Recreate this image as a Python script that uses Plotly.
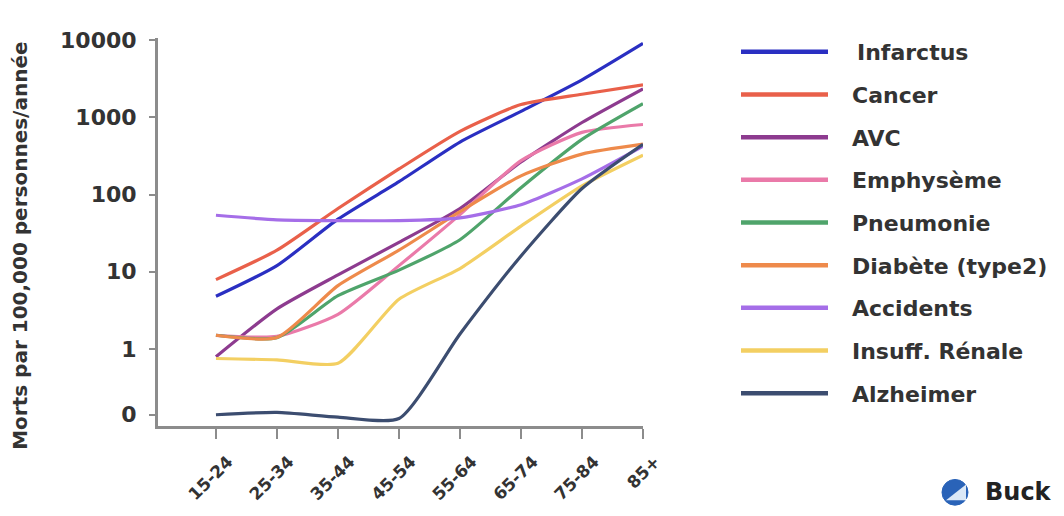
import plotly.graph_objects as go

categories = ["15-24", "25-34", "35-44", "45-54", "55-64", "65-74", "75-84", "85+"]

infarctus = [4.8, 12, 48, 147, 480, 1200, 3070, 9100]
cancer = [7.9, 19, 66, 215, 660, 1470, 2000, 2650]
avc = [0.79, 3.3, 9.1, 24, 66, 265, 860, 2350]
emphyseme = [1.5, 1.45, 2.8, 12, 55, 275, 640, 810]
pneumonie = [1.5, 1.4, 4.9, 10.5, 26, 123, 520, 1510]
diabete = [1.5, 1.4, 6.6, 19, 60, 175, 335, 450]
accidents = [54, 47, 46, 46, 50, 74, 160, 425]
insuff_renale = [0.75, 0.72, 0.65, 4.4, 11, 39, 130, 325]
alzheimer = [0.14, 0.15, 0.13, 0.125, 1.56, 16, 120, 450]

series_names = ["Infarctus", "Cancer", "AVC", "Emphysème", "Pneumonie",
                "Diabète (type2)", "Accidents", "Insuff. Rénale", "Alzheimer"]
series_values = [infarctus, cancer, avc, emphyseme, pneumonie,
                 diabete, accidents, insuff_renale, alzheimer]
series_colors = ["#2a2fc2", "#e9604a", "#8d3b8f", "#ea7aa9", "#4fa46b",
                 "#ee8a4b", "#a56ee8", "#f3cf62", "#3c4d70"]

y_tickvals = [0.14, 1, 10, 100, 1000, 10000]
y_ticktext = ["0", "1", "10", "100", "1000", "10000"]
y_title = "Morts par 100,000 personnes/année"

FONT = "DejaVu Sans"
TXT = "#333333"

# page has an 8px body margin: figure is 1056x508
W, H = 1056, 508
L, R, T, B = 150, 421, 30, 86
PW, PH = W - L - R, H - T - B

def px(xr):  # reference-pixel x -> paper
    return (xr - 8 - L) / PW

def py(yr):  # reference-pixel y -> paper
    return (H - (yr - 8) - B) / PH

fig = go.Figure()
for name, vals, col in zip(series_names, series_values, series_colors):
    fig.add_trace(go.Scatter(
        x=list(range(len(categories))), y=vals, name=name, mode="lines",
        line=dict(color=col, width=3.2, shape="spline", smoothing=0.6),
        showlegend=False,
    ))

# manual legend (long line samples as in the reference)
leg_top = 52
leg_step = 43.1
for i, (name, col) in enumerate(zip(series_names, series_colors)):
    yr = leg_top + i * leg_step
    fig.add_shape(type="line", xref="paper", yref="paper",
                  x0=px(741), x1=px(828), y0=py(yr), y1=py(yr),
                  line=dict(color=col, width=4.5))
    fig.add_annotation(xref="paper", yref="paper",
                       x=px(855 if i == 0 else 850), y=py(yr + 1),
                       text=name, showarrow=False, xanchor="left", yanchor="middle",
                       font=dict(family=FONT, size=22, color=TXT, weight="bold"))

# y-axis title
fig.add_annotation(xref="paper", yref="paper", x=px(20), y=py(248),
                   text=y_title, textangle=-90, showarrow=False,
                   xanchor="center", yanchor="middle",
                   font=dict(family=FONT, size=20, color=TXT, weight="bold"))

# Buck logo
cx, cy, r = 955, 497, 13
fig.add_shape(type="circle", xref="paper", yref="paper",
              x0=px(cx - r), x1=px(cx + r), y0=py(cy + r), y1=py(cy - r),
              fillcolor="#2a63b8", line=dict(color="#2a63b8", width=1))
fig.add_shape(type="path", xref="paper", yref="paper",
              path=f"M {px(cx-9)} {py(cy+8)} L {px(cx+11)} {py(cy+8)} L {px(cx+11)} {py(cy-8)} Z",
              fillcolor="#dbe8f7", line=dict(width=0))
fig.add_annotation(xref="paper", yref="paper", x=px(983), y=py(497),
                   text="Buck", showarrow=False, xanchor="left", yanchor="middle",
                   font=dict(family=FONT, size=24, color="#222", weight="bold"))

fig.update_layout(
    width=W, height=H,
    margin=dict(l=L, r=R, t=T, b=B),
    paper_bgcolor="white", plot_bgcolor="white",
    font=dict(family=FONT, color=TXT),
    showlegend=False,
)
fig.update_xaxes(
    range=[-0.95, 7], tickvals=list(range(len(categories))), ticktext=categories,
    tickangle=-45, showgrid=False, zeroline=False,
    showline=True, linecolor="#8c8c8c", linewidth=3,
    ticks="outside", ticklen=10, tickwidth=2, tickcolor="#8c8c8c",
    ticklabelshift=12, ticklabelstandoff=6,
    tickfont=dict(family=FONT, size=17, color=TXT, weight="bold"),
)
fig.update_yaxes(
    type="log", range=[-1, 4.03], tickvals=y_tickvals, ticktext=y_ticktext,
    showgrid=False, zeroline=False,
    showline=True, linecolor="#8c8c8c", linewidth=3,
    ticks="outside", ticklen=6, tickwidth=2, tickcolor="#8c8c8c",
    ticklabelstandoff=8,
    tickfont=dict(family=FONT, size=22, color=TXT, weight="bold"),
)

fig.write_html("out.html")
